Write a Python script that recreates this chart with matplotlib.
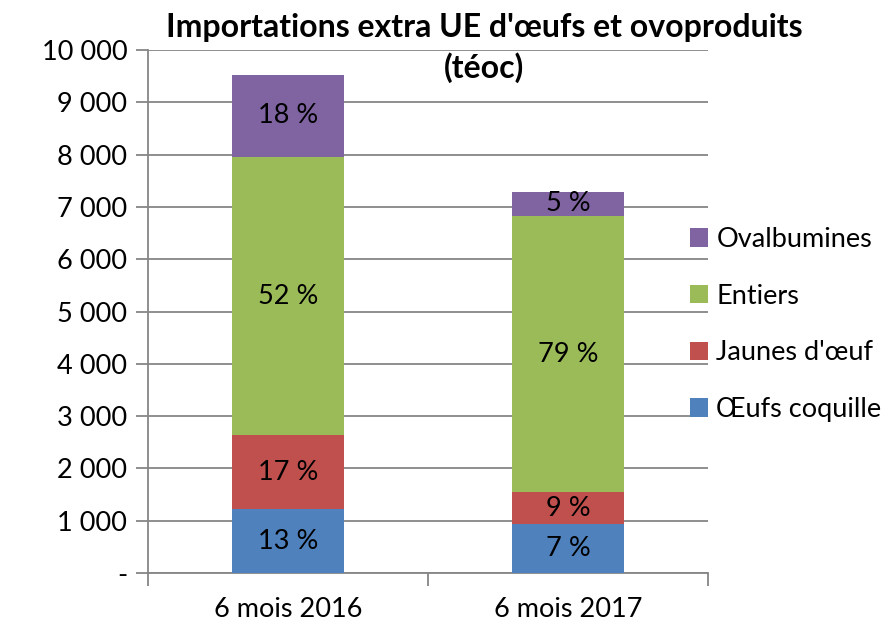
import matplotlib.pyplot as plt
import numpy as np

plt.rcParams["font.family"] = ["Lato", "DejaVu Sans"]

# data (tonnes équivalent oeuf coquille)
categories = ["6 mois 2016", "6 mois 2017"]
series_names = ["Œufs coquille", "Jaunes d'œuf", "Entiers", "Ovalbumines"]
oeufs_coquille = [1220, 940]
jaunes = [1410, 600]
entiers = [5330, 5290]
ovalbumines = [1560, 460]
pct_labels = [
    ["13 %", "7 %"],
    ["17 %", "9 %"],
    ["52 %", "79 %"],
    ["18 %", "5 %"],
]
yticks = [0, 1000, 2000, 3000, 4000, 5000, 6000, 7000, 8000, 9000, 10000]
ytick_labels = ["-", "1 000", "2 000", "3 000", "4 000", "5 000",
                "6 000", "7 000", "8 000", "9 000", "10 000"]

colors = ["#4F81BD", "#C0504D", "#9BBB59", "#8064A2"]
grid_col = "#868686"
fs = 19.5

fig = plt.figure(figsize=(8.92, 6.26), dpi=100)
ax = fig.add_axes([148 / 892, 53 / 626, 560 / 892, 523 / 626])

x = np.arange(len(categories))
bottom = np.zeros(len(categories))
for name, vals, col, labs in zip(series_names,
                                 [oeufs_coquille, jaunes, entiers, ovalbumines],
                                 colors, pct_labels):
    vals = np.array(vals, dtype=float)
    ax.bar(x, vals, width=0.4, bottom=bottom, color=col, label=name, zorder=3)
    for xi, b, v, lab in zip(x, bottom, vals, labs):
        ax.text(xi, b + v / 2, lab, ha="center", va="center",
                fontsize=fs, color="black", zorder=4)
    bottom += vals

ax.set_xlim(-0.5, 1.5)
ax.set_ylim(0, 10000)
ax.set_yticks(yticks)
ax.set_yticklabels(ytick_labels, fontsize=fs)
ax.set_xticks(x)
ax.set_xticklabels(categories, fontsize=fs)
ax.set_xticks([-0.5, 0.5, 1.5], minor=True)
ax.tick_params(axis="x", which="major", length=0, pad=17)
ax.tick_params(axis="x", which="minor", length=9, color=grid_col, width=1.3)
ax.tick_params(axis="y", length=9, color=grid_col, width=1.3, pad=6)

ax.grid(axis="y", color=grid_col, linewidth=1.3, zorder=0)
for s in ["top", "right"]:
    ax.spines[s].set_visible(False)
for s in ["left", "bottom"]:
    ax.spines[s].set_color(grid_col)
    ax.spines[s].set_linewidth(1.3)

fig.text(484 / 892, 1 - 27 / 626, "Importations extra UE d'œufs et ovoproduits",
         ha="center", va="center", fontsize=23, fontweight="bold")
fig.text(484 / 892, 1 - 68 / 626, "(téoc)",
         ha="center", va="center", fontsize=23, fontweight="bold")

h, l = ax.get_legend_handles_labels()
fig.legend(h[::-1], l[::-1], loc="upper left",
           bbox_to_anchor=(690 / 892, 1 - 227 / 626), frameon=False,
           fontsize=fs, handlelength=0.67, handleheight=0.67,
           handletextpad=0.3, labelspacing=1.17, borderpad=0, borderaxespad=0)

fig.savefig("out.png", dpi=100)
